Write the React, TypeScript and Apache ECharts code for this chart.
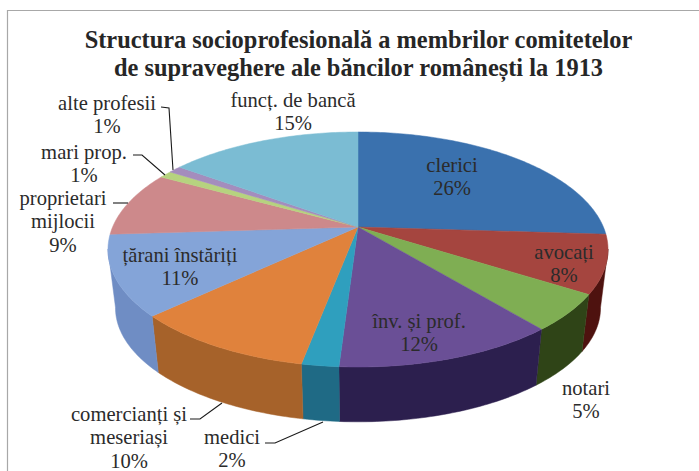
import React, { useEffect, useRef } from "react";
import * as echarts from "echarts";

const titleLines = [
  "Structura socioprofesională a membrilor comitetelor",
  "de supraveghere ale băncilor românești la 1913",
];
const categories = [
  "clerici", "avocați", "notari", "înv. și prof.", "medici", "comercianți și meseriași",
  "țărani înstăriți", "proprietari mijlocii", "mari prop.", "alte profesii", "funcț. de bancă",
];
const values = [26, 8, 5, 12, 2, 10, 11, 9, 1, 1, 15];
const labelLines = [
  ["clerici"], ["avocați"], ["notari"], ["înv. și prof."], ["medici"], ["comercianți și", "meseriași"],
  ["țărani înstăriți"], ["proprietari", "mijlocii"], ["mari prop."], ["alte profesii"], ["funcț. de bancă"],
];
const faceColors = ["#3a71ae", "#a5453f", "#7fae53", "#6a4f96", "#2f9fbe", "#e0823c", "#84a4d8", "#cd898b", "#b6d37f", "#a48dbd", "#7bbcd3"];
const wallColors = ["#27507e", "#4e120f", "#2f4417", "#2c1f4e", "#1f6a85", "#a6622a", "#6f8dc4", "#a06a6b", "#8aa060", "#7c6a90", "#5b8ea0"];

// label anchor: centre x, first-line centre y
const labelPos: number[][] = [
  [452, 165], [564, 252], [586, 388], [419, 321], [232, 437], [129, 414],
  [180, 255], [63, 198], [84, 152], [107, 103], [293, 100],
];
const leaders: number[][][] = [
  [[161, 107], [169, 108], [173, 170]],
  [[133, 155], [142, 155], [165, 175]],
  [[113, 203], [128, 203]],
  [[190, 419], [200, 419], [222, 403]],
  [[265, 443], [275, 443], [323, 422]],
];

const CX = 358, CY = 227, R = 245.4, RY = 113.2, K = 0.1915;
const WALL_DY = 59, WALL_SCALE = 0.97;
// only the front of the rim is visible (share of the circle, in %)
const WALL_FROM = 28, WALL_TO = 72;
const total = values.reduce((a, b) => a + b, 0);

function project(pct: number, bottom: boolean): number[] {
  const a = (pct / total) * Math.PI * 2;
  const u = Math.sin(a), v = -Math.cos(a);
  const s = 1 / (1 - K * v);
  const f = bottom ? WALL_SCALE : 1;
  return [CX + f * R * u * s, CY + (bottom ? WALL_DY : 0) + f * RY * v * s];
}
function arc(from: number, to: number, bottom: boolean): number[][] {
  const steps = Math.max(2, Math.ceil((to - from) * 4));
  const pts: number[][] = [];
  for (let i = 0; i <= steps; i++) pts.push(project(from + ((to - from) * i) / steps, bottom));
  return pts;
}
function sliceRange(i: number): number[] {
  const start = values.slice(0, i).reduce((a, b) => a + b, 0);
  return [start, start + values[i]];
}

const FONT = "'Liberation Serif', serif";

export default function App() {
  const ref = useRef<HTMLDivElement>(null);
  useEffect(() => {
    document.body.style.margin = "0";
    const chart = echarts.init(ref.current!, undefined, { renderer: "svg" });
    const data = values.map((v, i) => ({ name: categories[i], value: [i, v] }));
    const graphics: any[] = [
      { type: "polyline", silent: true, shape: { points: [[7.5, 471], [7.5, 10.5], [699, 10.5]] }, style: { stroke: "#a8a8a8", lineWidth: 1.2, fill: "none" } },
      ...titleLines.map((t, i) => ({
        type: "text", x: 358.5, y: 39 + i * 28.5, silent: true,
        style: { text: t, font: `bold 24.4px ${FONT}`, fill: "#262626", textAlign: "center", textVerticalAlign: "middle" },
      })),
      ...leaders.map((pts) => ({
        type: "polyline", silent: true, z: 20, shape: { points: pts }, style: { stroke: "#1a1a1a", lineWidth: 1.1, fill: "none" },
      })),
    ];
    labelLines.forEach((lines, i) => {
      const all = [...lines, `${values[i]}%`];
      all.forEach((t, j) => {
        graphics.push({
          type: "text", x: labelPos[i][0], y: labelPos[i][1] + j * 23.3, silent: true, z: 20,
          style: { text: t, font: `20.6px ${FONT}`, fill: "#2b2b2b", textAlign: "center", textVerticalAlign: "middle" },
        });
      });
    });
    chart.setOption({
      animation: false,
      backgroundColor: "#ffffff",
      graphic: graphics,
      series: [
        {
          type: "custom", coordinateSystem: "none", silent: true, data, z: 1,
          renderItem: (params: any) => {
            const [s, e] = sliceRange(params.dataIndex);
            const a = Math.max(s, WALL_FROM), b = Math.min(e, WALL_TO);
            if (b <= a) return null;
            const top = arc(a, b, false);
            const bot = arc(a, b, true).reverse();
            return {
              type: "polygon",
              shape: { points: [...top, ...bot] },
              style: { fill: wallColors[params.dataIndex], stroke: wallColors[params.dataIndex], lineWidth: 0.5 },
            };
          },
        },
        {
          type: "custom", coordinateSystem: "none", silent: true, data, z: 2,
          renderItem: (params: any) => {
            const [a, b] = sliceRange(params.dataIndex);
            return {
              type: "polygon",
              shape: { points: [[CX, CY], ...arc(a, b, false)] },
              style: { fill: faceColors[params.dataIndex], stroke: faceColors[params.dataIndex], lineWidth: 0.5 },
            };
          },
        },
      ],
    });
    return () => chart.dispose();
  }, []);
  return <div ref={ref} style={{ width: 699, height: 471 }} />;
}
